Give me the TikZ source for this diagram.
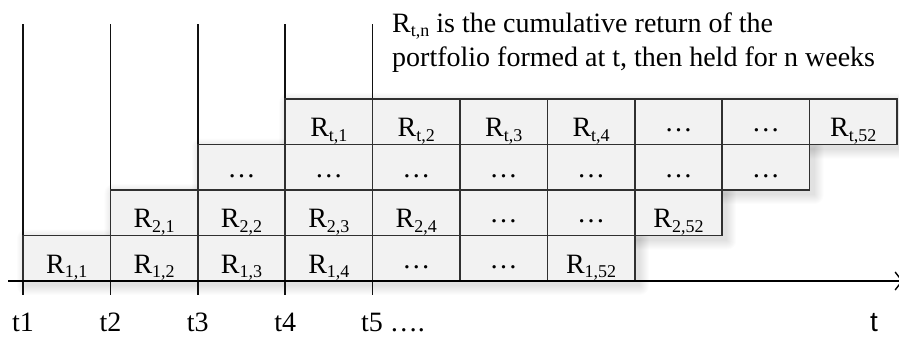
\documentclass[tikz,border=0pt]{standalone}
\usepackage{fontspec}
\setmainfont{Liberation Serif}
\newfontfamily\sansf{Liberation Sans}
\usetikzlibrary{arrows.meta}
\definecolor{cellfill}{HTML}{F2F2F2}
\definecolor{cellline}{HTML}{303030}
\definecolor{axisline}{HTML}{111111}
\newcommand\Rs[1]{R\raisebox{-0.16em}{\fontsize{18}{18}\selectfont #1}}
\newcommand\softshade[4]{%
  \foreach \k in {0,1,...,9}{%
    \fill[black, opacity=0.013, rounded corners=\k pt]
      ({#1+3-\k},{#2+3-\k}) rectangle ({#3+5+\k},{#4+5+\k});}}
\begin{document}
\begin{tikzpicture}[x=1pt,y=-1pt,
  every node/.style={font=\fontsize{28}{34}\selectfont, inner sep=0pt},
  rcell/.style={draw=cellline, line width=1.7pt, fill=cellfill, minimum width=87.4pt, minimum height=45.5pt, text height=30pt, text depth=0pt},
  dcell/.style={rcell, text height=20pt},
  vline/.style={draw=axisline, line width=1.5pt},
  lab/.style={anchor=base}]
\fill[white] (0,0) rectangle (899,343);
\useasboundingbox (0,0) rectangle (899,343);
% soft shadows behind each row
\softshade{23}{235.5}{634.8}{281}
\softshade{110.4}{190}{722.2}{235.5}
\softshade{197.8}{144.5}{809.6}{190}
\softshade{285.2}{99}{897}{144.5}
% vertical time lines
\coordinate (v1t) at (23,24);    \coordinate (v1b) at (23,295);
\coordinate (v2t) at (110.4,24); \coordinate (v2b) at (110.4,295);
\coordinate (v3t) at (197.8,24); \coordinate (v3b) at (197.8,295);
\coordinate (v4t) at (285.2,24); \coordinate (v4b) at (285.2,295);
\coordinate (v5t) at (372.6,24); \coordinate (v5b) at (372.6,295);
\draw[vline] (v1t) -- (v1b);
\draw[vline] (v2t) -- (v2b);
\draw[vline] (v3t) -- (v3b);
\draw[vline] (v4t) -- (v4b);
\draw[vline] (v5t) -- (v5b);
% row 1
\node[rcell] (r1c0) at (66.7,258.25) {\Rs{1,1}};
\node[rcell] (r1c1) at (154.1,258.25) {\Rs{1,2}};
\node[rcell] (r1c2) at (241.5,258.25) {\Rs{1,3}};
\node[rcell] (r1c3) at (328.9,258.25) {\Rs{1,4}};
\node[dcell] (r1c4) at (416.3,258.25) {…};
\node[dcell] (r1c5) at (503.7,258.25) {…};
\node[rcell] (r1c6) at (591.1,258.25) {\Rs{1,52}};
% row 2
\node[rcell] (r2c1) at (154.1,212.75) {\Rs{2,1}};
\node[rcell] (r2c2) at (241.5,212.75) {\Rs{2,2}};
\node[rcell] (r2c3) at (328.9,212.75) {\Rs{2,3}};
\node[rcell] (r2c4) at (416.3,212.75) {\Rs{2,4}};
\node[dcell] (r2c5) at (503.7,212.75) {…};
\node[dcell] (r2c6) at (591.1,212.75) {…};
\node[rcell] (r2c7) at (678.5,212.75) {\Rs{2,52}};
% row 3
\node[dcell] (r3c2) at (241.5,167.25) {…};
\node[dcell] (r3c3) at (328.9,167.25) {…};
\node[dcell] (r3c4) at (416.3,167.25) {…};
\node[dcell] (r3c5) at (503.7,167.25) {…};
\node[dcell] (r3c6) at (591.1,167.25) {…};
\node[dcell] (r3c7) at (678.5,167.25) {…};
\node[dcell] (r3c8) at (765.9,167.25) {…};
% row 4
\node[rcell] (r4c3) at (328.9,121.75) {\Rs{t,1}};
\node[rcell] (r4c4) at (416.3,121.75) {\Rs{t,2}};
\node[rcell] (r4c5) at (503.7,121.75) {\Rs{t,3}};
\node[rcell] (r4c6) at (591.1,121.75) {\Rs{t,4}};
\node[dcell] (r4c7) at (678.5,121.75) {…};
\node[dcell] (r4c8) at (765.9,121.75) {…};
\node[rcell] (r4c9) at (853.3,121.75) {\Rs{t,52}};
% time axis
\coordinate (ax0) at (8,281);
\coordinate (ax1) at (903,281);
\draw[draw=black, line width=1.4pt, -{Straight Barb[length=7pt,width=18pt,line width=1.4pt]}] (ax0) -- (ax1);
% axis labels
\node[lab] (t1) at (23,331) {t1};
\node[lab] (t2) at (110.4,331) {t2};
\node[lab] (t3) at (197.8,331) {t3};
\node[lab] (t4) at (285.2,331) {t4};
\node[anchor=base west] (t5) at (361,331) {t5 ….};
\node[lab, font=\sansf\fontsize{28}{34}\selectfont] (tend) at (874,331) {t};
% explanation
\node[anchor=base west] (ex1) at (392,32) {\Rs{t,n} is the cumulative return of the};
\node[anchor=base west] (ex2) at (392,66) {portfolio formed at t, then held for n weeks};
\end{tikzpicture}
\end{document}
